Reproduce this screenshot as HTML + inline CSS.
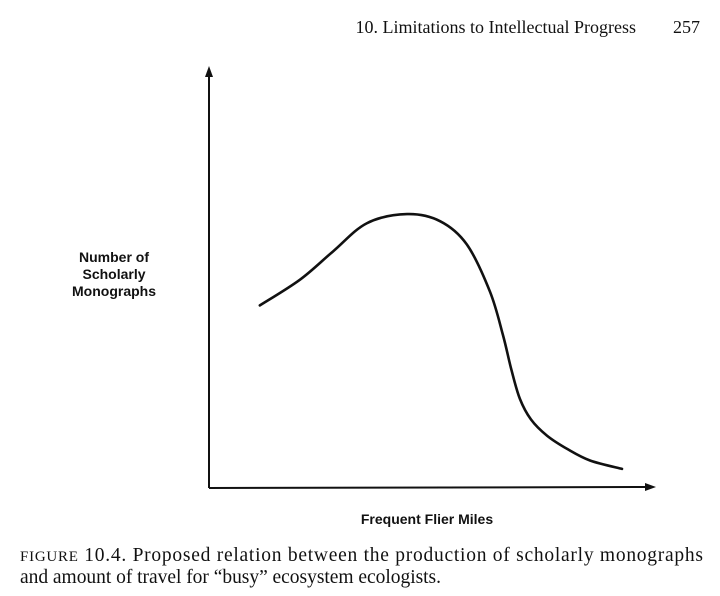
<!DOCTYPE html>
<html><head><meta charset="utf-8"><style>
body{margin:0;background:#fff;}
svg{display:block;}
</style></head><body>
<svg width="720" height="596" viewBox="0 0 720 596" xmlns="http://www.w3.org/2000/svg">
<text x="636" y="33" text-anchor="end" font-family="Liberation Serif, serif" font-size="18" fill="#111">10. Limitations to Intellectual Progress</text>
<text x="700" y="33" text-anchor="end" font-family="Liberation Serif, serif" font-size="18" fill="#111">257</text>
<line x1="209" y1="488" x2="209" y2="74" stroke="#111" stroke-width="2"/>
<polygon points="209,66 205,77 213,77" fill="#111"/>
<line x1="209" y1="488" x2="648" y2="487" stroke="#111" stroke-width="2"/>
<polygon points="656,487 645,483 645,491" fill="#111"/>
<g font-family="Liberation Sans, sans-serif" font-weight="bold" font-size="14" fill="#111" text-anchor="middle">
<text x="114" y="262">Number of</text>
<text x="114" y="279">Scholarly</text>
<text x="114" y="296">Monographs</text>
</g>
<text x="427" y="524" text-anchor="middle" font-family="Liberation Sans, sans-serif" font-weight="bold" font-size="14" fill="#111">Frequent Flier Miles</text>
<g font-family="Liberation Serif, serif" font-size="19.5" fill="#111">
<text x="20" y="561" textLength="683" lengthAdjust="spacing"><tspan font-size="15">FIGURE</tspan> 10.4. Proposed relation between the production of scholarly monographs</text>
<text x="20" y="583" textLength="421" lengthAdjust="spacing">and amount of travel for “busy” ecosystem ecologists.</text>
</g>
<path id="curve" fill="none" stroke="#111" stroke-width="2.6" stroke-linecap="round"/>
</svg>
<script>
// Data (abstract units): x = frequent flier miles (0..100), y = monographs (0..100)
const xVals = [11.4, 20.4, 27.8, 35.4, 44.4, 51.8, 57.8, 63.0, 65.9, 67.8, 69.7, 72.2, 75.8, 80.5, 85.5, 92.6];
const yVals = [44.0, 50.2, 57.0, 63.8, 66.0, 64.3, 58.7, 47.3, 36.9, 28.5, 21.5, 16.5, 12.6, 9.3, 6.6, 4.6];
const x0 = 209, x1 = 655, y0 = 488, y1 = 73;
function sx(v){ return x0 + (x1 - x0) * v / 100; }
function sy(v){ return y0 - (y0 - y1) * v / 100; }
const pts = xVals.map((v,i)=>[sx(v), sy(yVals[i])]);
let d = `M${pts[0][0]},${pts[0][1]}`;
for (let i=0;i<pts.length-1;i++){
  const p0=pts[Math.max(0,i-1)], p1=pts[i], p2=pts[i+1], p3=pts[Math.min(pts.length-1,i+2)];
  const c1=[p1[0]+(p2[0]-p0[0])/6, p1[1]+(p2[1]-p0[1])/6];
  const c2=[p2[0]-(p3[0]-p1[0])/6, p2[1]-(p3[1]-p1[1])/6];
  d += ` C${c1[0]},${c1[1]} ${c2[0]},${c2[1]} ${p2[0]},${p2[1]}`;
}
document.getElementById('curve').setAttribute('d', d);
</script>
</body></html>
